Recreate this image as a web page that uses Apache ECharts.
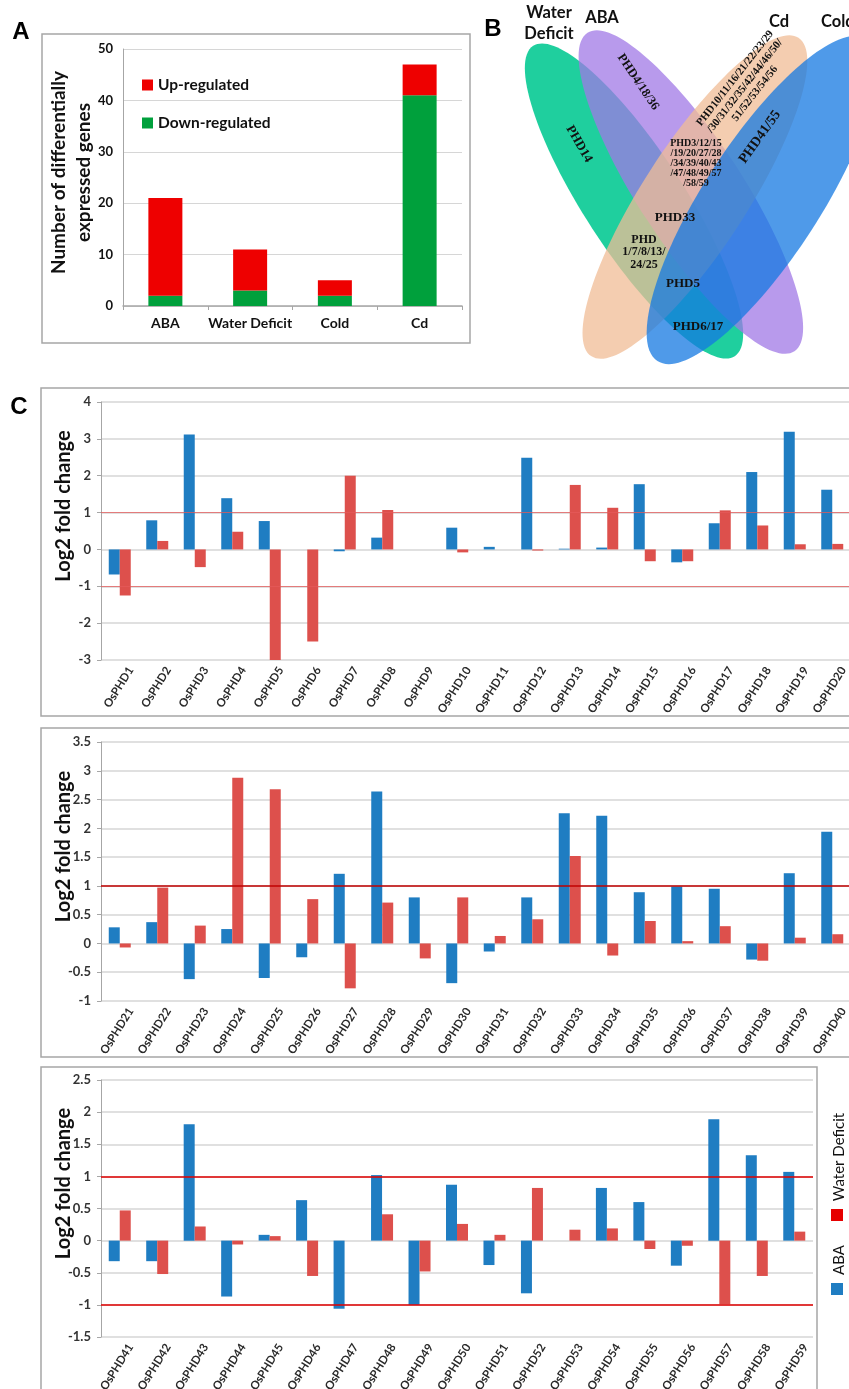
<!DOCTYPE html>
<html><head><meta charset="utf-8">
<script src="https://cdn.jsdelivr.net/npm/echarts@6/dist/echarts.min.js"></script>
<style>html,body{margin:0;padding:0;background:#fff}#c{width:849px;height:1389px}</style>
</head><body><div id="c"></div>
<script>
// Panel A data
const aCats = ['ABA', 'Water Deficit', 'Cold', 'Cd'];
const aDown = [2, 3, 2, 41];
const aUp = [19, 8, 3, 6];

// Panel C data
const c1Cats = ['OsPHD1','OsPHD2','OsPHD3','OsPHD4','OsPHD5','OsPHD6','OsPHD7','OsPHD8','OsPHD9','OsPHD10','OsPHD11','OsPHD12','OsPHD13','OsPHD14','OsPHD15','OsPHD16','OsPHD17','OsPHD18','OsPHD19','OsPHD20'];
const c1ABA = [-0.68, 0.79, 3.12, 1.39, 0.77, 0, -0.05, 0.32, 0, 0.59, 0.07, 2.49, 0.02, 0.05, 1.77, -0.35, 0.71, 2.10, 3.19, 1.62];
const c1WD  = [-1.25, 0.23, -0.48, 0.48, -3.0, -2.5, 2.0, 1.07, 0, -0.08, 0, -0.03, 1.75, 1.13, -0.32, -0.32, 1.06, 0.65, 0.14, 0.15];

const c2Cats = ['OsPHD21','OsPHD22','OsPHD23','OsPHD24','OsPHD25','OsPHD26','OsPHD27','OsPHD28','OsPHD29','OsPHD30','OsPHD31','OsPHD32','OsPHD33','OsPHD34','OsPHD35','OsPHD36','OsPHD37','OsPHD38','OsPHD39','OsPHD40'];
const c2ABA = [0.28, 0.37, -0.62, 0.25, -0.60, -0.24, 1.21, 2.64, 0.80, -0.69, -0.14, 0.80, 2.26, 2.22, 0.89, 0.99, 0.95, -0.28, 1.22, 1.94];
const c2WD  = [-0.07, 0.97, 0.31, 2.88, 2.68, 0.77, -0.78, 0.71, -0.26, 0.80, 0.13, 0.42, 1.52, -0.21, 0.39, 0.04, 0.30, -0.30, 0.10, 0.16];

const c3Cats = ['OsPHD41','OsPHD42','OsPHD43','OsPHD44','OsPHD45','OsPHD46','OsPHD47','OsPHD48','OsPHD49','OsPHD50','OsPHD51','OsPHD52','OsPHD53','OsPHD54','OsPHD55','OsPHD56','OsPHD57','OsPHD58','OsPHD59'];
const c3ABA = [-0.32, -0.32, 1.81, -0.87, 0.09, 0.63, -1.06, 1.02, -1.0, 0.87, -0.38, -0.82, 0, 0.82, 0.60, -0.39, 1.89, 1.33, 1.07];
const c3WD  = [0.47, -0.52, 0.22, -0.06, 0.07, -0.55, 0, 0.41, -0.48, 0.26, 0.09, 0.82, 0.17, 0.19, -0.13, -0.08, -0.99, -0.55, 0.14];

// Venn labels
const vennSets = ['Water\nDeficit', 'ABA', 'Cd', 'Cold'];

const F = 'Lato, "Open Sans", sans-serif';
const SERIF = '"Liberation Serif", "DejaVu Serif", serif';
const BLUE = '#1F7DC2', RED = '#DD504C';
const deg = d => d * Math.PI / 180;

function catX(grid, cats) {
  return {
    type: 'category', gridIndex: grid, data: cats,
    axisLine: { show: false, onZero: false }, axisTick: { show: false },
    axisLabel: { interval: 0, rotate: 58, fontFamily: F, fontWeight: 'bold', fontSize: 11.5, color: '#2a2a2a', margin: 1, verticalAlign: 'top', lineHeight: 26 }
  };
}
function valY(grid, min, max, interval) {
  return {
    type: 'value', gridIndex: grid, min, max, interval,
    name: 'Log2 fold change', nameLocation: 'middle', nameGap: 27, nameRotate: 90, nameMoveOverlap: false,
    nameTextStyle: { fontFamily: F, fontWeight: 'bold', fontSize: 20, color: '#111', padding: [0, 0, 0, 50] },
    axisLine: { show: true, lineStyle: { color: '#A6A6A6', width: 1 } },
    axisTick: { show: true, length: 4, lineStyle: { color: '#A6A6A6' } },
    axisLabel: { fontFamily: F, fontWeight: 'bold', fontSize: 13, color: '#333', margin: 10 },
    splitLine: { lineStyle: { color: '#D6D6D6', width: 1.5 } }
  };
}
function bars(name, data, xi, color, ml) {
  const s = {
    type: 'bar', name, data, xAxisIndex: xi, yAxisIndex: xi,
    barWidth: 11, barGap: '0%', itemStyle: { color }
  };
  if (ml) s.markLine = ml;
  return s;
}
function mline(vals, color, width) {
  return {
    silent: true, symbol: 'none', label: { show: false },
    lineStyle: { color, width, type: 'solid' },
    data: vals.map(v => ({ yAxis: v }))
  };
}

const chart = echarts.init(document.getElementById('c'), null, { renderer: 'canvas' });

const ellipses = [
  { x: 634, y: 201, rx: 50, ry: 185, rot: 33, fill: 'rgba(0,200,145,0.88)' },
  { x: 691, y: 192, rx: 52, ry: 190, rot: 33, fill: 'rgba(160,120,230,0.75)' },
  { x: 695, y: 197, rx: 52, ry: 190, rot: -33, fill: 'rgba(240,188,150,0.75)' },
  { x: 762, y: 200, rx: 58, ry: 192, rot: -33, fill: 'rgba(20,120,225,0.75)' }
];

const vt = (text, x, y, rot, size, lh) => ({
  type: 'text', x, y, rotation: deg(rot), z: 20,
  style: { text, fill: '#111', font: 'bold ' + size + 'px ' + SERIF, align: 'center', verticalAlign: 'middle', lineHeight: lh || size + 1 }
});
const lt = (text, x, y, size, align) => ({
  type: 'text', x, y, z: 20,
  style: { text, fill: '#111', font: 'bold ' + size + 'px ' + F, align: align || 'center', verticalAlign: 'middle', lineHeight: size + 4 }
});

const graphic = [
  // panel letters
  { type: 'text', x: 21, y: 32, z: 20, style: { text: 'A', font: 'bold 24px "Liberation Sans", Arial, sans-serif', fill: '#000', align: 'center', verticalAlign: 'middle' } },
  { type: 'text', x: 493, y: 29, z: 20, style: { text: 'B', font: 'bold 24px "Liberation Sans", Arial, sans-serif', fill: '#000', align: 'center', verticalAlign: 'middle' } },
  { type: 'text', x: 19, y: 407, z: 20, style: { text: 'C', font: 'bold 24px "Liberation Sans", Arial, sans-serif', fill: '#000', align: 'center', verticalAlign: 'middle' } },
  // frames
  { type: 'rect', shape: { x: 42, y: 34, width: 428, height: 309 }, style: { fill: 'none', stroke: '#A6A6A6', lineWidth: 1.5 } },
  { type: 'rect', shape: { x: 41, y: 388, width: 820, height: 328 }, style: { fill: 'none', stroke: '#A6A6A6', lineWidth: 1.5 } },
  { type: 'rect', shape: { x: 41, y: 728, width: 820, height: 329 }, style: { fill: 'none', stroke: '#A6A6A6', lineWidth: 1.5 } },
  { type: 'rect', shape: { x: 41, y: 1067, width: 776, height: 330 }, style: { fill: 'none', stroke: '#A6A6A6', lineWidth: 1.5 } },
  // venn ellipses
  ...ellipses.map((e, i) => ({ type: 'ellipse', x: e.x, y: e.y, rotation: deg(e.rot), z: 1 + i, shape: { cx: 0, cy: 0, rx: e.rx, ry: e.ry }, style: { fill: e.fill } })),
  // venn set labels
  lt(vennSets[0], 549, 23, 16.5),
  lt(vennSets[1], 602, 18, 16.5),
  lt(vennSets[2], 779, 22, 16.5),
  lt(vennSets[3], 821, 22, 16.5, 'left'),
  // venn region labels
  vt('PHD4/18/36', 638, 82, -56, 12.5),
  vt('PHD14', 579, 144, -60, 13),
  vt('PHD10/11/16/21/22/23/29\n/30/31/32/35/42/44/46/50/\n51/52/53/54/56', 745, 86, 52, 11, 12.5),
  vt('PHD41/55', 760, 137, 54.5, 14),
  vt('PHD3/12/15\n/19/20/27/28\n/34/39/40/43\n/47/48/49/57\n/58/59', 696, 163, 0, 10, 10),
  vt('PHD33', 675, 218, 0, 13),
  vt('PHD\n1/7/8/13/\n24/25', 644, 252, 0, 12, 12.5),
  vt('PHD5', 683, 284, 0, 13),
  vt('PHD6/17', 698, 327, 0, 13),
  // chart C legend (rotated)
  { type: 'text', x: 839, y: 1157, rotation: deg(90), z: 20, style: { text: 'Water Deficit', font: '15px ' + F, fill: '#111', align: 'center', verticalAlign: 'middle' } },
  { type: 'rect', shape: { x: 831, y: 1209, width: 12, height: 12 }, style: { fill: '#E60000' } },
  { type: 'text', x: 839, y: 1260, rotation: deg(90), z: 20, style: { text: 'ABA', font: '15px ' + F, fill: '#111', align: 'center', verticalAlign: 'middle' } },
  { type: 'rect', shape: { x: 831, y: 1283, width: 12, height: 12 }, style: { fill: BLUE } }
];

const option = {
  animation: false,
  backgroundColor: '#fff',
  textStyle: { fontFamily: F },
  grid: [
    { left: 123, top: 49, width: 339, height: 257, outerBoundsMode: 'none' },
    { left: 101, top: 402, width: 750, height: 258, outerBoundsMode: 'none' },
    { left: 101, top: 742, width: 750, height: 259, outerBoundsMode: 'none' },
    { left: 101, top: 1080, width: 712, height: 257, outerBoundsMode: 'none' }
  ],
  legend: {
    data: ['Up-regulated', 'Down-regulated'], orient: 'vertical', left: 137, top: 72,
    itemWidth: 11, itemHeight: 11, itemGap: 22, icon: 'rect', selectedMode: false,
    textStyle: { fontFamily: F, fontWeight: 'bold', fontSize: 15.5, color: '#111' }
  },
  xAxis: [
    {
      type: 'category', gridIndex: 0, data: aCats,
      axisLine: { lineStyle: { color: '#A6A6A6', width: 1.5 } },
      axisTick: { show: true, length: 4, lineStyle: { color: '#A6A6A6' } },
      axisLabel: { fontFamily: F, fontWeight: 'bold', fontSize: 14, color: '#111', margin: 10, interval: 0 }
    },
    catX(1, c1Cats), catX(2, c2Cats), catX(3, c3Cats)
  ],
  yAxis: [
    {
      type: 'value', gridIndex: 0, min: 0, max: 50, interval: 10,
      name: 'Number of differentially\nexpressed genes', nameLocation: 'middle', nameGap: 27, nameRotate: 90, nameMoveOverlap: false,
      nameTextStyle: { fontFamily: F, fontWeight: 'bold', fontSize: 19, color: '#111', lineHeight: 25, padding: [0, 0, 0, 10] },
      axisLine: { show: true, lineStyle: { color: '#A6A6A6', width: 1 } },
      axisTick: { show: false },
      axisLabel: { fontFamily: F, fontWeight: 'bold', fontSize: 13, color: '#111', margin: 10 },
      splitLine: { lineStyle: { color: '#D6D6D6', width: 1.2 } }
    },
    valY(1, -3, 4, 1),
    valY(2, -1, 3.5, 0.5),
    valY(3, -1.5, 2.5, 0.5)
  ],
  series: [
    { type: 'bar', name: 'Down-regulated', stack: 'a', data: aDown, xAxisIndex: 0, yAxisIndex: 0, barWidth: 34, itemStyle: { color: '#00A03C' } },
    { type: 'bar', name: 'Up-regulated', stack: 'a', data: aUp, xAxisIndex: 0, yAxisIndex: 0, barWidth: 34, itemStyle: { color: '#EE0000' } },
    bars('ABA', c1ABA, 1, BLUE, mline([1, -1], 'rgba(228,90,90,0.75)', 1.2)),
    bars('Water Deficit', c1WD, 1, RED),
    bars('ABA', c2ABA, 2, BLUE, mline([1], '#C00000', 1.5)),
    bars('Water Deficit', c2WD, 2, RED),
    bars('ABA', c3ABA, 3, BLUE, mline([1, -1], '#E00000', 1.5)),
    bars('Water Deficit', c3WD, 3, RED)
  ],
  graphic
};
chart.setOption(option);
</script></body></html>
